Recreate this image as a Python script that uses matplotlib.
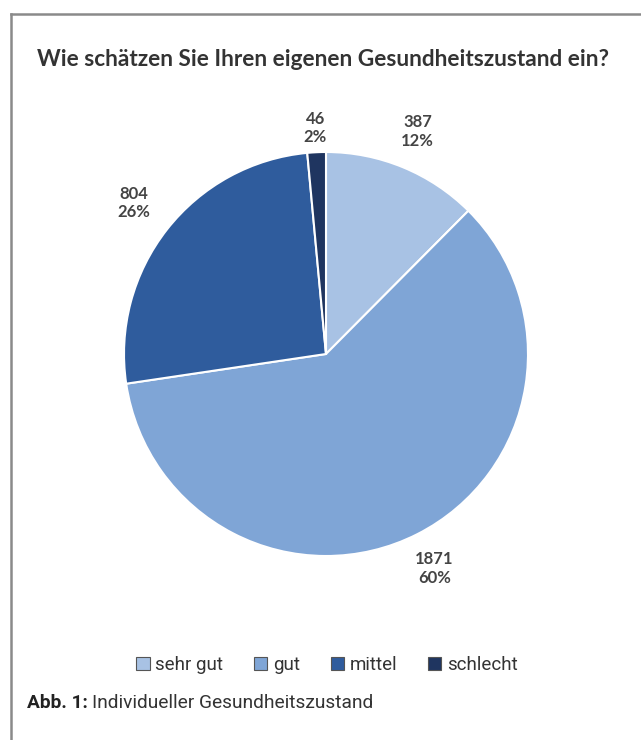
import matplotlib.pyplot as plt
from matplotlib.patches import Patch
from matplotlib.lines import Line2D
import numpy as np

categories = ["sehr gut", "gut", "mittel", "schlecht"]
counts = [387, 1871, 804, 46]
percents = ["12%", "60%", "26%", "2%"]
colors = ["#A8C2E4", "#7FA5D6", "#2F5C9D", "#1F3560"]
label_dist = [1.19, 1.19, 1.21, 1.12]

fig = plt.figure(figsize=(6.41, 7.40), dpi=100)

# frame lines (left and top only)
fig.add_artist(Line2D([11/641, 11/641], [0, 1 - 14/740], color="#8a8a8a", lw=1.8))
fig.add_artist(Line2D([11/641, 1], [1 - 14/740, 1 - 14/740], color="#8a8a8a", lw=1.8))

fig.text(323/641, 1 - 60/740, "Wie schätzen Sie Ihren eigenen Gesundheitszustand ein?",
         ha="center", va="center", fontsize=16.3, fontweight="bold",
         family="Lato", color="#333333")

ax = fig.add_axes([124/641, 184/740, 404/641, 404/740])
wedges, _ = ax.pie(counts, colors=colors, startangle=90, counterclock=False,
                   wedgeprops=dict(edgecolor="white", linewidth=1.5))
ax.set_xlim(-1, 1)
ax.set_ylim(-1, 1)
ax.axis("off")

for w, n, p, d in zip(wedges, counts, percents, label_dist):
    ang = np.deg2rad((w.theta1 + w.theta2) / 2)
    ax.text(d * np.cos(ang), d * np.sin(ang), f"{n}\n{p}", ha="center", va="center",
            fontsize=12, fontweight="bold", family="Lato", color="#444444",
            linespacing=1.2, clip_on=False)

handles = [Patch(facecolor=c, edgecolor="#555555", linewidth=0.8) for c in colors]
fig.legend(handles, categories, loc="center", bbox_to_anchor=(327/641, 1 - 665/740),
           ncol=4, frameon=False, handlelength=0.7, handleheight=0.7,
           handletextpad=0.3, columnspacing=1.65,
           prop=dict(family="Roboto", size=13.5))
for t in fig.legends[0].get_texts():
    t.set_color("#333333")

t1 = fig.text(27/641, 1 - 703/740, "Abb. 1:", ha="left", va="center", fontsize=13.8,
              fontweight="bold", family="Roboto", color="#222222")
fig.canvas.draw()
bb = t1.get_window_extent(renderer=fig.canvas.get_renderer())
fig.text(bb.x1 / fig.bbox.width + 4/641, 1 - 703/740, "Individueller Gesundheitszustand",
         ha="left", va="center", fontsize=13.8, family="Roboto", color="#333333")

fig.savefig("out.png", dpi=100, facecolor="white")
